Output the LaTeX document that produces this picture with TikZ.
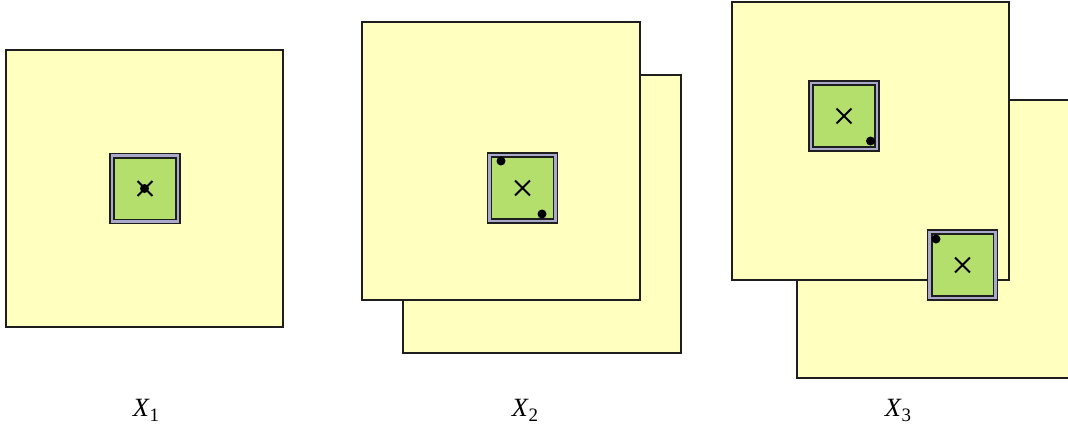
\documentclass[tikz,border=0pt]{standalone}
\usepackage{fontspec}
\setmainfont{Liberation Serif}
\usepackage{tikz}
\usetikzlibrary{shapes.misc,positioning}
\usepackage{xcolor}
\definecolor{paper}{HTML}{FFFFC0}
\definecolor{chipgreen}{HTML}{B5DF6C}
\definecolor{chipframe}{HTML}{A9A9C9}
\definecolor{edge}{HTML}{1E1E1E}
\newcommand{\xsub}[1]{\textit{X}\raisebox{-0.22em}{\fontsize{10.8}{11}\selectfont #1}}

\begin{document}
\begin{tikzpicture}[
        x=0.02cm, y=-0.02cm,
        sheet/.style={draw=edge, fill=paper, line width=1.05pt, minimum size=5.55cm, inner sep=0pt},
        chip/.style={draw=edge, fill=chipgreen, line width=0.95pt, double=chipframe, double distance=1.5pt, minimum size=1.32cm, inner sep=0pt},
        cross/.style={draw=black, cross out, line width=1.1pt, minimum size=0.26cm, inner sep=0pt},
        dot/.style={circle, fill=black, minimum size=0.18cm, inner sep=0pt},
        caption/.style={anchor=base, inner sep=0pt, font=\fontsize{15}{18}\selectfont}
    ]
    \useasboundingbox (0,0) rectangle (1068,427);

    \node (s1) [sheet] at (144.5,188.5) {};
    \node (c1) [chip] at (145,188.5) {};
    \node (x1) [cross] at (c1) {};
    \node (d1) [dot] at (s1) {};
    \node (l1) [caption] at (146,416) {\xsub{1}};

    \node (s2b) [sheet] at (542,214) {};
    \node (s2a) [sheet] at (501,161) {};
    \node (c2) [chip] at (522.5,188) {};
    \node (x2) [cross] at (c2) {};
    \node (d2a) [dot] at (s2a) {};
    \node (d2b) [dot] at (s2b) {};
    \node (l2) [caption] at (525,416) {\xsub{2}};

    \node (s3b) [sheet] at (936,239) {};
    \node (s3a) [sheet] at (870.5,141) {};
    \node (c3a) [chip] at (844,116) {};
    \node (c3b) [chip] at (962.5,265) {};
    \node (x3a) [cross] at (c3a) {};
    \node (x3b) [cross] at (c3b) {};
    \node (d3a) [dot] at (s3a) {};
    \node (d3b) [dot] at (s3b) {};
    \node (l3) [caption] at (898,416) {\xsub{3}};
\end{tikzpicture}
\end{document}
